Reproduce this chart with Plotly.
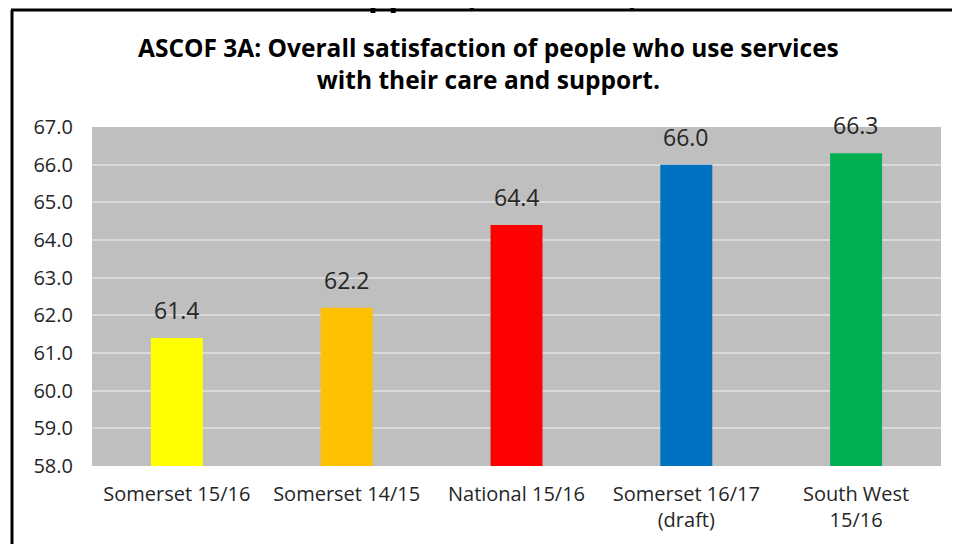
import plotly.graph_objects as go

categories = ["Somerset 15/16", "Somerset 14/15", "National 15/16", "Somerset 16/17<br>(draft)", "South West<br>15/16"]
values = [61.4, 62.2, 64.4, 66.0, 66.3]
colors = ["#FFFF00", "#FFC000", "#FF0000", "#0070C0", "#00B050"]
y_ticks = [58, 59, 60, 61, 62, 63, 64, 65, 66, 67]

FONT = "'Open Sans', 'Noto Sans', sans-serif"

# the page body adds an 8px margin, so the figure is 8px smaller than the window
OFF = 8
W, H = 960 - OFF, 544 - OFF
# plot area in window pixels: x 92..941, y 127..466
L, R, T, B = 92 - OFF, 960 - 941, 127 - OFF, 544 - 466
pw, ph = W - L - R, H - T - B

def px(x):  # window pixel -> paper x
    return (x - OFF - L) / pw

def py(y):  # window pixel -> paper y
    return (H - B - (y - OFF)) / ph

fig = go.Figure(go.Bar(
    x=categories, y=values,
    marker=dict(color=colors, line=dict(width=0)),
    width=0.306,
    hoverinfo="x+y",
))

# value labels above each bar, from the data arrays
value_labels = [
    dict(x=c, y=v, xref="x", yref="y", text=f"{v:.1f}", showarrow=False,
         xanchor="center", yanchor="bottom", yshift=10,
         font=dict(size=23, color="#262626", family=FONT))
    for c, v in zip(categories, values)
]

fig.update_layout(
    width=W, height=H,
    margin=dict(l=L, r=R, t=T, b=B),
    paper_bgcolor="white",
    plot_bgcolor="#BFBFBF",
    showlegend=False,
    font=dict(family=FONT, color="#262626"),
    xaxis=dict(
        showgrid=False, showline=False, zeroline=False, ticks="",
        tickfont=dict(size=20, color="#262626"),
        ticklabelstandoff=14,
    ),
    yaxis=dict(
        range=[58, 67], tickvals=y_ticks,
        ticktext=[f"{v:.1f}" for v in y_ticks],
        showgrid=True, gridcolor="#D9D9D9", gridwidth=1.5,
        zeroline=False, showline=False, ticks="",
        tickfont=dict(size=20, color="#262626"),
        ticklabelstandoff=18,
    ),
    annotations=value_labels + [
        dict(text="<b>ASCOF 3A: Overall satisfaction of people who use services<br>with their care and support.</b>",
             xref="paper", yref="paper", x=px(488), y=py(63),
             xanchor="center", yanchor="middle", showarrow=False,
             font=dict(size=24.5, color="#000000", family=FONT)),
        dict(text="<b>support (ASCOF 3A)</b>",
             xref="paper", yref="paper", x=px(640), y=py(16.5),
             xanchor="right", yanchor="bottom", showarrow=False,
             font=dict(size=32, color="#000000", family=FONT)),
    ],
    shapes=[
        dict(type="line", xref="paper", yref="paper",
             x0=px(12), x1=px(12), y0=py(10), y1=py(560),
             line=dict(color="black", width=3)),
        dict(type="line", xref="paper", yref="paper",
             x0=px(11), x1=px(975), y0=py(10), y1=py(10),
             line=dict(color="black", width=3)),
    ],
)

fig.write_html("out.html")
